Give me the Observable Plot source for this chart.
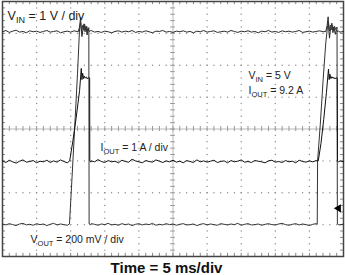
<!DOCTYPE html>
<html>
<head>
<meta charset="utf-8">
<script src="https://cdn.jsdelivr.net/npm/d3@7"></script>
<script src="https://cdn.jsdelivr.net/npm/@observablehq/plot@0.6"></script>
<style>
  body { margin: 0; background: #fff; }
  svg { display: block; font-family: Arial, "Liberation Sans", sans-serif; }
</style>
</head>
<body>
<script>
// Time axis: 5 ms/div, 10 divisions. Vertical: 8 divisions (values in divisions from screen centre).
const sampleStep = 0.5; // ms between noise samples

const vinBase = [3.05,3.09,3.03,3.07,3.10,3.04,3.06,3.02,3.08,3.05,
  3.07,3.03,3.06,3.09,3.04,3.06,3.08,3.02,3.05,3.07,
  3.04,3.08,3.06,3.03,3.07,3.05,3.09,3.04,3.06,3.03,
  3.07,3.05,3.02,3.06,3.08,3.04,3.07,3.05,3.09,3.03,
  3.06,3.04,3.08,3.05,3.02,3.07,3.06,3.09,3.04,3.06,
  3.03,3.07,3.05,3.08,3.04,3.06,3.02,3.07,3.05,3.09,
  3.04,3.06,3.08,3.03,3.05,3.07,3.04,3.09,3.06,3.03,
  3.07,3.05,3.08,3.04,3.06,3.02,3.07,3.05,3.09,3.04,
  3.06,3.03,3.08,3.05,3.07,3.04,3.06,3.09,3.03,3.05,
  3.07,3.04,3.06,3.08,3.05,3.03,3.07,3.05,3.08,3.04,3.06];
const vinPulse = [[11.1,3.05],[11.3,3.2],[11.45,3.50],[11.55,3.10],[11.65,2.90],[11.8,3.12],[11.95,3.30],[12.1,3.05],[12.25,3.22],[12.4,2.95],[12.55,3.15],[12.7,3.06],[12.85,3.08],
  [47.4,3.06],[47.6,3.25],[47.75,3.52],[47.85,3.08],[47.95,2.85],[48.1,3.15],[48.3,3.32],[48.45,3.02],[48.6,3.2],[48.8,2.97],[48.95,3.12],[49.1,3.05],[49.25,3.07]];
const vinWindows = [[11.0,12.9],[47.3,49.3]];

const ioutBase = [-1.00,-1.05,-0.98,-1.03,-1.07,-1.01,-0.97,-1.04,-1.02,-0.99,
  -1.06,-1.01,-1.03,-0.98,-1.05,-1.00,-1.04,-0.97,-1.02,-1.06,
  -1.01,-0.99,-1.04,-1.02,-0.98,-1.05,-1.00,-1.03,-0.96,-1.02,
  -1.05,-0.99,-1.03,-1.01,-1.06,-0.98,-1.02,-1.04,-0.95,-1.00,
  -1.03,-1.06,-0.99,-1.02,-1.04,-0.97,-1.01,-1.05,-1.00,-1.03,
  -0.98,-1.04,-1.01,-1.06,-0.99,-1.02,-1.05,-0.97,-1.03,-1.00,
  -1.04,-1.01,-0.98,-1.05,-1.02,-1.00,-1.06,-0.99,-1.03,-1.01,
  -0.97,-1.04,-1.02,-1.05,-0.99,-1.01,-1.03,-1.06,-1.00,-0.98,
  -1.04,-1.02,-1.05,-0.99,-1.03,-1.01,-1.06,-0.98,-1.02,-1.04,
  -1.00,-1.03,-0.99,-1.05,-1.01,-1.03,-0.98,-1.04,-1.02,-1.00,-1.03];
const ioutPulse = [[9.85,-1.0],[10.3,-0.4],[10.8,0.35],[11.3,1.2],[11.55,1.9],[11.65,1.55],[11.75,1.75],[11.9,1.58],[12.0,1.66],[12.15,1.6],[12.3,1.63],[12.45,1.57],[12.6,1.62],[12.78,1.6],[12.8,-1.0],[12.95,-1.04],
  [46.3,-1.0],[46.7,-0.45],[47.1,0.3],[47.5,1.15],[47.8,1.88],[47.9,1.55],[48.0,1.72],[48.15,1.58],[48.3,1.64],[48.45,1.59],[48.6,1.62],[48.75,1.57],[48.9,1.61],[49.08,1.6],[49.12,-1.0],[49.3,-1.03]];
const ioutWindows = [[9.8,12.9],[46.2,49.3]];

const voutBase = [-2.98,-3.01,-2.97,-3.00,-3.03,-2.98,-2.96,-3.01,-2.99,-3.02,
  -2.97,-3.00,-2.98,-3.03,-2.99,-2.96,-3.01,-2.98,-3.00,-3.02,
  -2.97,-2.99,-3.01,-2.98,-3.03,-3.00,-2.97,-2.99,-3.02,-2.98,
  -3.00,-2.96,-3.01,-2.99,-3.02,-2.97,-3.00,-2.98,-3.03,-2.99,
  -2.97,-3.01,-2.98,-3.00,-2.96,-3.02,-2.99,-3.01,-2.97,-3.00,
  -2.98,-3.02,-2.99,-2.97,-3.01,-3.00,-2.98,-3.03,-2.99,-2.97,
  -3.01,-2.98,-3.00,-3.02,-2.97,-2.99,-3.01,-2.98,-3.00,-2.96,
  -3.02,-2.99,-2.97,-3.01,-3.00,-2.98,-3.02,-2.99,-2.97,-3.00,
  -3.01,-2.98,-2.96,-3.00,-3.02,-2.99,-2.97,-3.01,-2.98,-3.00,
  -3.03,-2.99,-2.97,-3.01,-2.98,-3.00,-2.98,-3.02,-2.99,-3.01,-2.98];
const voutPulse = [[9.82,-2.98],[10.2,-1.5],[10.6,0.1],[11.0,1.75],[11.3,3.15],[11.45,3.35],[11.6,3.05],[11.75,3.25],[11.9,3.1],[12.05,3.28],[12.2,3.12],[12.35,3.22],[12.5,3.08],[12.66,3.18],[12.7,-2.98],[12.9,-3.0],
  [46.15,-2.99],[46.2,-1.0],[46.6,0.15],[47.0,1.5],[47.4,2.7],[47.65,3.2],[47.8,3.35],[47.95,3.08],[48.1,3.26],[48.25,3.12],[48.4,3.25],[48.55,3.1],[48.7,3.22],[48.85,3.12],[49.05,3.2],[49.1,-2.98],[49.3,-3.0]];
const voutWindows = [[9.7,12.95],[46.1,49.35]];

const triggerMarker = [[49.27, -2.49]];

const vinScaleLabel = [{t: 0.75, d: 3.56, text: "V_{IN} = 1 V / div"}];
const labels = [
  {t: 36.07, d: 1.67, text: "V_{IN} = 5 V"},
  {t: 36.07, d: 1.20, text: "I_{OUT} = 9.2 A"},
  {t: 14.37, d: -0.57, text: "I_{OUT} = 1 A / div"},
  {t: 4.11, d: -3.48, text: "V_{OUT} = 200 mV / div"}
];
const xTitle = "Time = 5 ms/div";

const majorX = [5,10,15,20,30,35,40,45];
const majorY = [-3,-2,-1,1,2,3];
const minorX = d3.range(0, 50.01, 1);
const minorY = d3.range(-4, 4.01, 0.2).map(v => +v.toFixed(2));

function trace(base, pulse, windows) {
  const pts = base.map((v, i) => ({t: i * sampleStep, v}))
    .filter(p => !windows.some(([a, b]) => p.t >= a && p.t <= b));
  pulse.forEach(([t, v]) => pts.push({t, v}));
  return pts.sort((a, b) => a.t - b.t);
}

const gridDots = [
  ...majorX.flatMap(x => minorY.map(y => ({x, y}))),
  ...majorY.flatMap(y => minorX.map(x => ({x, y})))
];

const svg = Plot.plot({
  width: 345,
  height: 275,
  marginLeft: 2,
  marginRight: 2,
  marginTop: 1,
  marginBottom: 19,
  x: {domain: [0, 50], axis: null},
  y: {domain: [-4, 4], axis: null},
  style: {fontFamily: "Arial, 'Liberation Sans', sans-serif", background: "#fff"},
  marks: [
    Plot.dot(gridDots, {x: "x", y: "y", r: 0.7, fill: "#8a8a8a", stroke: null}),
    Plot.ruleX([25], {stroke: "#b8b8b8"}),
    Plot.ruleY([0], {stroke: "#b8b8b8"}),
    Plot.ruleY(minorY, {y: d => d, x1: 24.65, x2: 25.35, stroke: "#999"}),
    Plot.ruleX(minorX, {x: d => d, y1: -0.08, y2: 0.08, stroke: "#999"}),
    Plot.ruleY(minorY, {y: d => d, x1: 0, x2: 0.45, stroke: "#888"}),
    Plot.ruleY(minorY, {y: d => d, x1: 49.55, x2: 50, stroke: "#888"}),
    Plot.ruleX(minorX, {x: d => d, y1: -4, y2: -3.9, stroke: "#888"}),
    Plot.ruleX(minorX, {x: d => d, y1: 3.9, y2: 4, stroke: "#888"}),
    Plot.frame({stroke: "#444", strokeWidth: 1.5}),
    Plot.line(trace(vinBase, vinPulse, vinWindows), {x: "t", y: "v", stroke: "#2a2a2a", strokeWidth: 1}),
    Plot.line(trace(voutBase, voutPulse, voutWindows), {x: "t", y: "v", stroke: "#333", strokeWidth: 1}),
    Plot.line(trace(ioutBase, ioutPulse, ioutWindows), {x: "t", y: "v", stroke: "#111", strokeWidth: 1}),
    Plot.dot(triggerMarker, {x: d => d[0], y: d => d[1], symbol: "triangle", r: 3, rotate: -90, fill: "#000", stroke: null}),
    Plot.text(vinScaleLabel, {x: "t", y: "d", text: "text", textAnchor: "start", fontSize: 12.5, fill: "#222", className: "lblbig"}),
    Plot.text(labels, {x: "t", y: "d", text: "text", textAnchor: "start", fontSize: 10.5, fill: "#222", className: "lbl"}),
    Plot.text([xTitle], {x: 24.05, y: -4, text: d => d, dy: 12, fontSize: 15, fontWeight: "bold", fill: "#111", textAnchor: "middle"})
  ]
});

document.body.appendChild(svg);

// Render "_{...}" as subscripts
function subscripts(sel, subSize, shift) {
  d3.select(svg).selectAll(sel).each(function() {
    const s = this.textContent;
    const parts = s.split(/_\{([^}]*)\}/);
    const el = d3.select(this);
    el.text(null);
    parts.forEach((p, i) => {
      if (!p) return;
      if (i % 2 === 1) {
        el.append("tspan").attr("font-size", subSize + "px").attr("dy", shift).text(p);
      } else {
        const ts = el.append("tspan").text(p);
        if (i > 0) ts.attr("dy", -shift);
      }
    });
  });
}
subscripts("g.lbl text", 7.5, 3);
subscripts("g.lblbig text", 9, 3.5);
</script>
</body>
</html>
